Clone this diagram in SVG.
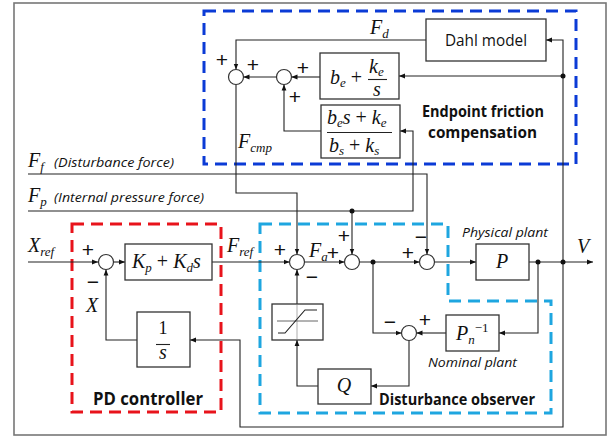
<svg xmlns="http://www.w3.org/2000/svg" width="615" height="439" viewBox="0 0 615 439">
<defs>
<marker id="ah" viewBox="0 0 6 6" refX="6" refY="3" markerWidth="6" markerHeight="6" markerUnits="userSpaceOnUse" orient="auto">
<path d="M0,0.6 L6,3 L0,5.4 Z" fill="#111"/>
</marker>
<style>
.frame{fill:none;stroke:#777;stroke-width:1.6}
.blk{fill:#fff;stroke:#333;stroke-width:1.3}
.sum{fill:#fff;stroke:#333;stroke-width:1.2}
.ln{fill:none;stroke:#222;stroke-width:1.1}
.ar{fill:none;stroke:#222;stroke-width:1.1;marker-end:url(#ah)}
.dot{fill:#111}
.dash{fill:none;stroke-width:3;stroke-dasharray:12 7}
.m{font-family:"Liberation Serif",serif;font-style:italic;fill:#111}
.mr{font-family:"Liberation Serif",serif;fill:#111}
.sg{font-family:"Liberation Sans",sans-serif;fill:#111;font-size:21px;text-anchor:middle}
.lbl{font-family:"Open Sans","Liberation Sans",sans-serif;fill:#111}
.b{font-weight:bold}
.i{font-style:italic}
</style>
</defs>
<rect class="frame" x="14" y="3" width="592" height="432"/>

<g id="groups">
<rect id="efc-box" class="dash" stroke="#0b3bd6" x="204" y="11" width="372" height="153"/>
<rect id="pd-box" class="dash" stroke="#e8131b" x="72" y="224" width="149" height="188"/>
<path id="dob-box" class="dash" stroke="#1ea6e0" d="M260,224 H448 V301 H551 V413 H260 Z"/>
</g>

<g id="connectors">
<path class="ar" d="M28,262 H98"/>
<path class="ar" d="M113.5,262 H125"/>
<path class="ar" d="M212,262 H289.5"/>
<path class="ar" d="M304.5,262 H344.5"/>
<path class="ar" d="M359.5,262 H419.5"/>
<path class="ar" d="M434.5,262 H476"/>
<path class="ar" d="M529,262 H593"/>
<path class="ar" d="M28,174 H427 V254.5"/>
<path class="ar" d="M28,211 H413 V131 H400"/>
<path class="ar" d="M352,211 V254.5"/>
<path class="ar" d="M236,84.5 V193 H297 V254.5"/>
<path class="ar" d="M426,40 H236 V69.5"/>
<path class="ar" d="M320,77 H291.5"/>
<path class="ar" d="M276.5,77 H243.5"/>
<path class="ar" d="M321,131 H284 V84.5"/>
<path class="ar" d="M563,262 V40 H546"/>
<path class="ar" d="M563,76 H399"/>
<path class="ar" d="M563,262 V427 H240 V340 H190"/>
<path class="ar" d="M137,340 H106 V269.5"/>
<path class="ar" d="M538,262 V333 H499"/>
<path class="ar" d="M446,333 H416.5"/>
<path class="ar" d="M373,262 V333 H401.5"/>
<path class="ar" d="M409,340.5 V386 H371"/>
<path class="ar" d="M318,386 H297 V340"/>
<path class="ar" d="M297,304 V269.5"/>
<circle class="dot" cx="352" cy="211" r="2.5"/>
<circle class="dot" cx="373" cy="262" r="2.5"/>
<circle class="dot" cx="538" cy="262" r="2.5"/>
<circle class="dot" cx="563" cy="262" r="2.5"/>
<circle class="dot" cx="563" cy="76" r="2.5"/>
</g>

<g id="sum-efc1"><circle class="sum" cx="236" cy="77" r="7.5"/>
<text class="sg" x="222" y="67">+</text>
<text class="sg" x="253" y="72">+</text></g>
<g id="sum-efc2"><circle class="sum" cx="284" cy="77" r="7.5"/>
<text class="sg" x="303" y="75">+</text>
<text class="sg" x="295" y="104">+</text></g>
<g id="sum-pd"><circle class="sum" cx="106" cy="262" r="7.5"/>
<text class="sg" x="88" y="257">+</text>
<text class="sg" x="93" y="289">−</text></g>
<g id="sum-fa"><circle class="sum" cx="297" cy="262" r="7.5"/>
<text class="sg" x="280" y="257">+</text>
<text class="sg" x="312" y="284">−</text></g>
<g id="sum-fp"><circle class="sum" cx="352" cy="262" r="7.5"/>
<text class="sg" x="333" y="260">+</text>
<text class="sg" x="344" y="243">+</text></g>
<g id="sum-ff"><circle class="sum" cx="427" cy="262" r="7.5"/>
<text class="sg" x="408" y="260">+</text>
<text class="sg" x="421" y="244">−</text></g>
<g id="sum-dob"><circle class="sum" cx="409" cy="333" r="7.5"/>
<text class="sg" x="390" y="329">−</text>
<text class="sg" x="425" y="327">+</text></g>

<g id="dahl"><rect class="blk" x="426" y="19" width="120" height="42"/>
<text class="lbl" x="486" y="46" font-size="16" text-anchor="middle" textLength="82" lengthAdjust="spacingAndGlyphs">Dahl model</text></g>

<g id="be-ke-s"><rect class="blk" x="320" y="53" width="79" height="46"/>
<text class="m" x="330" y="84" font-size="20">b<tspan font-size="13" dy="3">e</tspan><tspan class="mr" font-style="normal" dy="-3" font-size="20"> +</tspan></text>
<line class="ln" x1="368" y1="79.5" x2="387" y2="79.5"/>
<text class="m" x="369" y="73" font-size="20">k<tspan font-size="13" dy="3">e</tspan></text>
<text class="m" x="377" y="96" font-size="20" text-anchor="middle">s</text></g>

<g id="frac-box"><rect class="blk" x="321" y="105" width="79" height="53"/>
<text class="m" x="327" y="124" font-size="20">b<tspan font-size="13" dy="3">e</tspan><tspan dy="-3">s</tspan><tspan class="mr" font-style="normal"> + </tspan>k<tspan font-size="13" dy="3">e</tspan></text>
<line class="ln" x1="327" y1="132.5" x2="392" y2="132.5"/>
<text class="m" x="329" y="152" font-size="20">b<tspan font-size="13" dy="3">s</tspan><tspan class="mr" font-style="normal" dy="-3"> + </tspan>k<tspan font-size="13" dy="3">s</tspan></text></g>

<g id="pd"><rect class="blk" x="125" y="244" width="87" height="36"/>
<text class="m" x="132" y="268" font-size="20">K<tspan font-size="13" dy="4">p</tspan><tspan class="mr" font-style="normal" dy="-4"> + </tspan>K<tspan font-size="13" dy="4">d</tspan><tspan dy="-4">s</tspan></text></g>

<g id="integrator"><rect class="blk" x="137" y="312" width="53" height="55"/>
<text class="mr" x="163" y="334" font-size="18" text-anchor="middle">1</text>
<line class="ln" x1="156" y1="344.5" x2="170" y2="344.5"/>
<text class="m" x="163" y="359" font-size="20" text-anchor="middle">s</text></g>

<g id="plant"><rect class="blk" x="476" y="244" width="53" height="36"/>
<text class="m" x="502" y="268" font-size="20" text-anchor="middle">P</text></g>

<g id="nominal-inv"><rect class="blk" x="446" y="315" width="53" height="36"/>
<text class="m" x="456" y="340" font-size="20">P<tspan font-size="13" dy="4">n</tspan><tspan class="mr" font-style="normal" font-size="13" dy="-12">−1</tspan></text></g>

<g id="q-filter"><rect class="blk" x="318" y="369" width="53" height="35"/>
<text class="m" x="344" y="392" font-size="20" text-anchor="middle">Q</text></g>

<g id="saturation"><rect class="blk" x="272" y="304" width="51" height="36"/>
<line x1="297" y1="305" x2="297" y2="339" stroke="#bbb" stroke-width="1.2"/>
<line x1="277" y1="321" x2="318" y2="321" stroke="#666" stroke-width="1"/>
<polyline points="278,333 285,333 305,310 317,310" fill="none" stroke="#222" stroke-width="1.1"/></g>

<g id="labels">
<text class="m" x="370" y="34" font-size="20">F<tspan font-size="13" dy="4">d</tspan></text>
<text class="m" x="238" y="148" font-size="20">F<tspan font-size="13" dy="4">cmp</tspan></text>
<text class="m" x="28" y="167" font-size="20">F<tspan font-size="13" dy="4">f</tspan></text>
<text class="lbl i" x="54" y="167" font-size="12.5" textLength="120" lengthAdjust="spacingAndGlyphs">(Disturbance force)</text>
<text class="m" x="28" y="202" font-size="20">F<tspan font-size="13" dy="4">p</tspan></text>
<text class="lbl i" x="54" y="202" font-size="12.5" textLength="150" lengthAdjust="spacingAndGlyphs">(Internal pressure force)</text>
<text class="m" x="28" y="252" font-size="20">X<tspan font-size="13" dy="4">ref</tspan></text>
<text class="m" x="86" y="312" font-size="20">X</text>
<text class="m" x="227" y="252" font-size="20">F<tspan font-size="13" dy="4">ref</tspan></text>
<text class="m" x="309" y="257" font-size="20">F<tspan font-size="13" dy="4">a</tspan></text>
<text class="m" x="577" y="253" font-size="20">V</text>
<text class="lbl i" x="462" y="237" font-size="12.5" textLength="86" lengthAdjust="spacingAndGlyphs">Physical plant</text>
<text class="lbl i" x="428" y="367" font-size="12.5" textLength="89" lengthAdjust="spacingAndGlyphs">Nominal plant</text>
<text class="lbl b" x="422" y="117" font-size="15.5" textLength="122" lengthAdjust="spacingAndGlyphs">Endpoint friction</text>
<text class="lbl b" x="428" y="138" font-size="15.5" textLength="109" lengthAdjust="spacingAndGlyphs">compensation</text>
<text class="lbl b" x="379" y="405" font-size="15.5" textLength="156" lengthAdjust="spacingAndGlyphs">Disturbance observer</text>
<text class="lbl b" x="93" y="405" font-size="17" textLength="110" lengthAdjust="spacingAndGlyphs">PD controller</text>
</g>
</svg>
